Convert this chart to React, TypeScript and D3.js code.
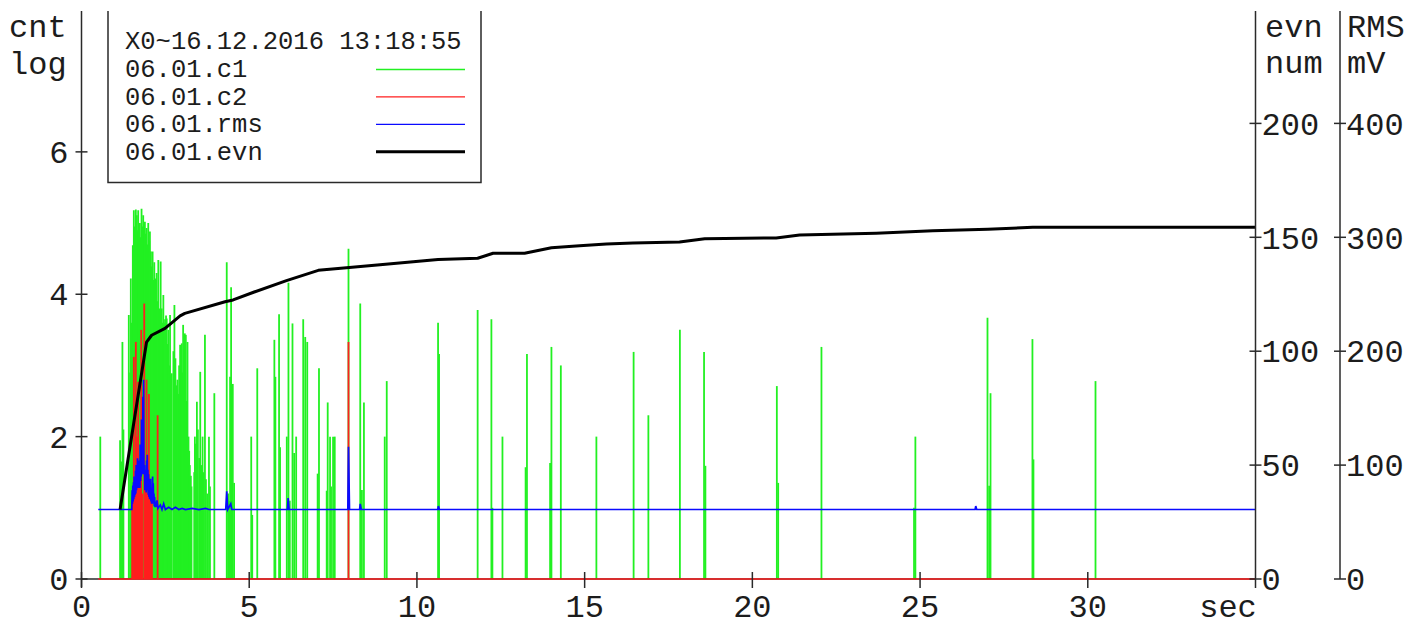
import React from "react";
import * as d3 from "d3";

// ---- series data ----
// c1 / c2: log10 of counts per sample, drawn as vertical spikes from 0
const c1Time = [0.56, 1.15, 1.18, 1.22, 1.25, 1.41, 1.45, 1.47, 1.5, 1.53, 1.54, 1.56, 1.59, 1.62, 1.65, 1.67, 1.69, 1.71, 1.74, 1.77, 1.79, 1.82, 1.84, 1.87, 1.89, 1.92, 1.94, 1.97, 1.99, 2.02, 2.04, 2.07, 2.09, 2.12, 2.14, 2.17, 2.19, 2.21, 2.24, 2.26, 2.29, 2.32, 2.34, 2.36, 2.39, 2.41, 2.44, 2.46, 2.49, 2.52, 2.54, 2.56, 2.59, 2.61, 2.64, 2.67, 2.69, 2.74, 2.77, 2.8, 2.84, 2.86, 2.88, 2.91, 2.94, 2.97, 2.99, 3.01, 3.03, 3.06, 3.08, 3.11, 3.13, 3.16, 3.19, 3.21, 3.23, 3.26, 3.28, 3.36, 3.38, 3.41, 3.44, 3.47, 3.51, 3.54, 3.57, 3.61, 3.63, 3.68, 3.71, 3.75, 3.8, 3.83, 3.96, 4.33, 4.37, 4.4, 4.43, 4.46, 4.51, 4.55, 5.06, 5.09, 5.24, 5.75, 5.78, 5.89, 5.92, 6.12, 6.17, 6.21, 6.29, 6.34, 6.4, 6.61, 6.67, 6.73, 7.04, 7.08, 7.31, 7.34, 7.41, 7.44, 7.5, 7.55, 7.96, 8.31, 8.36, 8.42, 9.04, 9.1, 10.63, 10.66, 11.81, 12.22, 12.25, 12.55, 13.24, 13.28, 13.97, 14.01, 14.29, 15.35, 16.46, 16.9, 17.84, 18.56, 18.6, 20.73, 20.77, 22.06, 24.82, 24.86, 27.01, 27.06, 27.1, 28.35, 28.38, 30.23];
const c1Log = [2.0, 1.95, 1.65, 3.33, 2.1, 3.71, 2.9, 4.22, 3.6, 4.69, 4.4, 5.18, 4.95, 5.19, 5.11, 4.9, 5.18, 4.88, 5.0, 4.8, 5.2, 4.95, 5.11, 4.9, 5.02, 4.85, 4.93, 4.7, 5.0, 4.75, 4.88, 4.6, 4.39, 4.6, 4.2, 4.45, 4.1, 4.22, 4.3, 3.9, 4.48, 3.8, 3.78, 4.46, 3.8, 3.6, 3.99, 3.6, 3.65, 3.7, 3.66, 3.3, 3.5, 3.0, 3.71, 2.87, 2.89, 3.2, 3.85, 3.1, 2.72, 2.8, 2.6, 3.0, 3.29, 2.94, 3.31, 2.9, 3.57, 2.7, 3.45, 3.43, 2.5, 3.33, 2.0, 1.8, 1.6, 1.45, 1.3, 1.5, 2.0, 1.9, 2.49, 2.1, 1.7, 2.91, 1.6, 2.0, 1.5, 3.43, 1.4, 1.2, 2.0, 1.3, 2.61, 4.45, 1.2, 1.1, 2.84, 4.1, 2.74, 1.35, 2.0, 0.9, 2.96, 3.36, 2.84, 3.72, 1.85, 2.0, 4.16, 1.1, 3.59, 1.77, 2.0, 3.65, 3.4, 3.33, 1.48, 2.96, 1.24, 2.48, 2.0, 1.3, 2.0, 2.0, 4.64, 3.87, 1.25, 2.48, 2.0, 2.78, 3.6, 3.16, 3.78, 3.65, 1.0, 2.0, 1.57, 3.16, 1.63, 3.26, 3.0, 2.0, 3.19, 2.3, 3.5, 3.19, 1.59, 2.71, 1.35, 3.26, 1.0, 2.0, 3.67, 1.31, 2.61, 3.37, 1.68, 2.78];

const c2Time = [1.51, 1.53, 1.56, 1.59, 1.62, 1.65, 1.67, 1.69, 1.72, 1.75, 1.78, 1.81, 1.87, 1.9, 1.94, 1.97, 1.99, 2.01, 2.04, 2.07, 2.1, 2.27, 7.96];
const c2Log = [1.1, 1.2, 3.12, 1.2, 3.33, 2.0, 1.2, 2.77, 1.3, 1.5, 3.5, 1.2, 3.87, 1.3, 2.8, 1.2, 1.1, 2.6, 1.3, 1.15, 1.1, 2.3, 3.33];

// rms: millivolts, drawn as a connected line
const rmsTime = [0.5, 1.5, 1.51, 1.52, 1.53, 1.54, 1.55, 1.56, 1.57, 1.58, 1.59, 1.6, 1.61, 1.62, 1.63, 1.64, 1.65, 1.66, 1.67, 1.68, 1.69, 1.7, 1.71, 1.72, 1.73, 1.74, 1.75, 1.76, 1.77, 1.78, 1.79, 1.8, 1.81, 1.82, 1.83, 1.84, 1.85, 1.86, 1.87, 1.88, 1.89, 1.9, 1.91, 1.92, 1.93, 1.94, 1.95, 1.96, 1.97, 1.98, 1.99, 2.0, 2.01, 2.02, 2.03, 2.04, 2.05, 2.06, 2.07, 2.08, 2.09, 2.1, 2.11, 2.12, 2.13, 2.14, 2.15, 2.16, 2.17, 2.18, 2.19, 2.2, 2.22, 2.25, 2.28, 2.35, 2.4, 2.45, 2.5, 2.6, 2.7, 2.8, 2.9, 3.0, 3.1, 3.3, 3.5, 3.7, 3.8, 4.3, 4.33, 4.36, 4.45, 4.48, 6.14, 6.16, 6.19, 7.94, 7.96, 7.99, 8.29, 8.31, 8.34, 10.62, 10.64, 10.67, 26.64, 26.66, 26.69, 35];
const rmsMv = [61, 61, 78, 66, 82, 68, 85, 70, 90, 72, 88, 74, 95, 75, 100, 78, 96, 80, 106, 82, 98, 80, 104, 84, 95, 80, 118, 86, 100, 90, 140, 95, 110, 92, 160, 100, 175, 98, 92, 100, 78, 96, 80, 90, 76, 104, 80, 109, 78, 96, 74, 92, 72, 88, 70, 86, 72, 88, 68, 80, 66, 78, 66, 90, 70, 84, 66, 75, 64, 72, 63, 68, 63, 69, 62, 65, 61, 66, 61, 63, 61, 63, 61, 62, 61, 62, 61, 62, 61, 61, 77, 61, 66, 61, 61, 71, 61, 61, 116, 61, 61, 66, 61, 61, 64, 61, 61, 64, 61, 61];

// evn: cumulative event number
const evnTime = [1.15, 1.94, 2.09, 2.49, 2.94, 3.08, 4.28, 4.52, 5.15, 6.11, 7.06, 7.9, 8.9, 10.63, 11.81, 12.27, 13.21, 14.01, 14.85, 15.65, 16.44, 17.83, 18.58, 20.71, 21.41, 23.69, 25.38, 27.02, 28.36, 35];
const evnNum = [30.5, 104, 107, 110, 115.5, 116.6, 121.7, 122.5, 126, 131, 135.5, 136.6, 138, 140.3, 140.8, 143, 143, 145.4, 146.3, 147.1, 147.5, 147.9, 149.4, 149.7, 151, 151.8, 152.9, 153.5, 154.4, 154.4];

// ---- axes ----
const secTicks = [0, 5, 10, 15, 20, 25, 30];
const cntTicks = [0, 2, 4, 6];
const evnTicks = [0, 50, 100, 150, 200];
const rmsTicks = [0, 100, 200, 300, 400];

const legendTitle = "X0~16.12.2016 13:18:55";
const legendNames = ["06.01.c1", "06.01.c2", "06.01.rms", "06.01.evn"];
const legendColors = ["#22f022", "#ff1e1e", "#0a0aff", "#000000"];
const legendWidths = [1.3, 1.3, 1.3, 3];

const W = 1413;
const H = 628;
const PLOT_LEFT = 81.5;
const PLOT_RIGHT = 1255.5;
const RMS_AXIS_X = 1340;
const BASE_Y = 579;
const TOP_Y = 9.5;
const AXIS_TOP = 11;

const FONT = "'Courier New', 'Liberation Mono', monospace";
const AXIS_COLOR = "#2a2a2a";
const TEXT_COLOR = "#1c1c1c";

export default function App() {
  const x = d3.scaleLinear().domain([0, 35]).range([PLOT_LEFT, PLOT_RIGHT]);
  const yCnt = d3.scaleLinear().domain([0, 8]).range([BASE_Y, TOP_Y]);
  const yEvn = d3.scaleLinear().domain([0, 250]).range([BASE_Y, TOP_Y]);
  const yRms = d3.scaleLinear().domain([0, 500]).range([BASE_Y, TOP_Y]);

  const rmsLine = d3
    .line<number>()
    .x((_, i) => x(rmsTime[i]))
    .y((v) => yRms(v))(rmsMv) as string;

  const evnLine = d3
    .line<number>()
    .x((_, i) => x(evnTime[i]))
    .y((v) => yEvn(v))(evnNum) as string;

  const seriesStart = 0.5;

  return (
    <svg
      width={W}
      height={H}
      style={{ position: "absolute", left: 0, top: 0, display: "block", background: "#fff" }}
    >
      <rect x={0} y={0} width={W} height={H} fill="#fff" />

      {/* c1 spikes */}
      <g stroke={legendColors[0]} strokeWidth={1.8}>
        {c1Time.map((t, i) => (
          <line key={i} x1={x(t)} x2={x(t)} y1={yCnt(0)} y2={yCnt(c1Log[i])} />
        ))}
      </g>

      {/* x axis line */}
      <line x1={x(0)} x2={x(35)} y1={BASE_Y} y2={BASE_Y} stroke={AXIS_COLOR} strokeWidth={1.5} />

      {/* c2 baseline and spikes */}
      <g stroke={legendColors[1]} strokeWidth={1.8}>
        <line x1={x(seriesStart)} x2={x(35)} y1={yCnt(0)} y2={yCnt(0)} strokeWidth={1.6} />
        {c2Time.map((t, i) => (
          <line key={i} x1={x(t)} x2={x(t)} y1={yCnt(0)} y2={yCnt(c2Log[i])} />
        ))}
      </g>

      {/* rms */}
      <path d={rmsLine} fill="none" stroke={legendColors[2]} strokeWidth={1.7} />

      {/* evn */}
      <path d={evnLine} fill="none" stroke="#000" strokeWidth={3} strokeLinejoin="round" />

      {/* axes */}
      <g stroke={AXIS_COLOR} strokeWidth={1.5}>
        <line x1={PLOT_LEFT} x2={PLOT_LEFT} y1={AXIS_TOP} y2={BASE_Y + 8} />
        {cntTicks.map((v) => (
          <line key={v} x1={PLOT_LEFT - 6} x2={PLOT_LEFT + 6} y1={yCnt(v)} y2={yCnt(v)} />
        ))}
        {secTicks.map((v) => (
          <line key={v} x1={x(v)} x2={x(v)} y1={BASE_Y - 7} y2={BASE_Y + 9} />
        ))}
        <line x1={PLOT_RIGHT} x2={PLOT_RIGHT} y1={AXIS_TOP} y2={BASE_Y + 9} />
        {evnTicks.map((v) => (
          <line key={v} x1={PLOT_RIGHT - 6} x2={PLOT_RIGHT + 6} y1={yEvn(v)} y2={yEvn(v)} />
        ))}
        <line x1={RMS_AXIS_X} x2={RMS_AXIS_X} y1={AXIS_TOP} y2={BASE_Y} />
        {rmsTicks.map((v) => (
          <line key={v} x1={RMS_AXIS_X - 6} x2={RMS_AXIS_X + 6} y1={yRms(v)} y2={yRms(v)} />
        ))}
      </g>

      <g fontFamily={FONT} fontSize={32} fill={TEXT_COLOR}>
        {cntTicks.map((v) => (
          <text key={v} x={PLOT_LEFT - 13} y={yCnt(v)} dy="0.35em" textAnchor="end">
            {v}
          </text>
        ))}
        {evnTicks.map((v) => (
          <text key={v} x={PLOT_RIGHT + 6} y={yEvn(v)} dy="0.35em">
            {v}
          </text>
        ))}
        {rmsTicks.map((v) => (
          <text key={v} x={RMS_AXIS_X + 6} y={yRms(v)} dy="0.35em">
            {v}
          </text>
        ))}
        {secTicks.map((v) => (
          <text key={v} x={x(v)} y={617} textAnchor="middle">
            {v}
          </text>
        ))}
        <text x={1228} y={617} textAnchor="middle">sec</text>
        <text x={9} y={37}>cnt</text>
        <text x={9} y={74}>log</text>
        <text x={1265} y={37}>evn</text>
        <text x={1265} y={73}>num</text>
        <text x={1347} y={37}>RMS</text>
        <text x={1347} y={73}>mV</text>
      </g>

      {/* legend */}
      <g>
        <rect x={108} y={AXIS_TOP - 4} width={373} height={176} fill="#fff" stroke="none" />
        <path
          d={`M108,${AXIS_TOP} V182.5 H481 V${AXIS_TOP}`}
          fill="none"
          stroke={AXIS_COLOR}
          strokeWidth={1.5}
        />
        <g fontFamily={FONT} fontSize={25.5} fill={TEXT_COLOR}>
          <text x={125} y={49}>{legendTitle}</text>
          {legendNames.map((name, i) => (
            <text key={name} x={125} y={77 + i * 27.7}>
              {name}
            </text>
          ))}
        </g>
        {legendNames.map((name, i) => (
          <line
            key={name}
            x1={376}
            x2={465}
            y1={69.5 + i * 27.4}
            y2={69.5 + i * 27.4}
            stroke={legendColors[i]}
            strokeWidth={legendWidths[i]}
          />
        ))}
      </g>
    </svg>
  );
}
